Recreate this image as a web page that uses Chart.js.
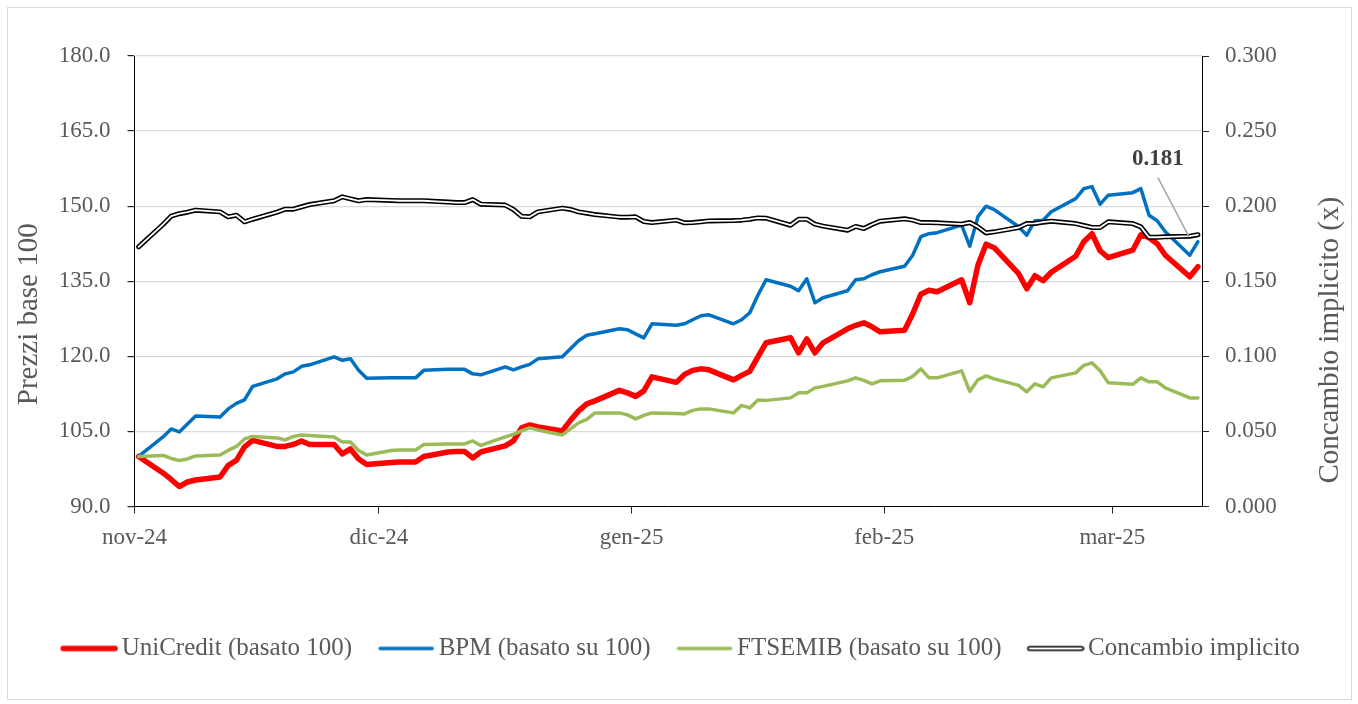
<!DOCTYPE html>
<html>
<head>
<meta charset="utf-8">
<script src="https://cdn.jsdelivr.net/npm/chart.js@4.4.1/dist/chart.umd.min.js"></script>
<style>
html, body { margin: 0; padding: 0; background: #fff; }
canvas { display: block; }
</style>
</head>
<body>
<canvas id="grafico" width="1358" height="704"></canvas>
<script>
// giorni di borsa (nov-24 -> mar-25)
const dates = [
    '2024-11-01', '2024-11-04', '2024-11-05', '2024-11-06', '2024-11-07', '2024-11-08', '2024-11-11', '2024-11-12', '2024-11-13', '2024-11-14', '2024-11-15',
    '2024-11-18', '2024-11-19', '2024-11-20', '2024-11-21', '2024-11-22', '2024-11-25', '2024-11-26', '2024-11-27', '2024-11-28', '2024-11-29',
    '2024-12-02', '2024-12-03', '2024-12-04', '2024-12-05', '2024-12-06', '2024-12-09', '2024-12-10', '2024-12-11', '2024-12-12', '2024-12-13',
    '2024-12-16', '2024-12-17', '2024-12-18', '2024-12-19', '2024-12-20', '2024-12-23', '2024-12-24', '2024-12-25', '2024-12-26', '2024-12-27',
    '2024-12-30', '2024-12-31',
    '2025-01-01', '2025-01-02', '2025-01-03', '2025-01-06', '2025-01-07', '2025-01-08', '2025-01-09', '2025-01-10', '2025-01-13', '2025-01-14',
    '2025-01-15', '2025-01-16', '2025-01-17', '2025-01-20', '2025-01-21', '2025-01-22', '2025-01-23', '2025-01-24', '2025-01-27', '2025-01-28',
    '2025-01-29', '2025-01-30', '2025-01-31',
    '2025-02-03', '2025-02-04', '2025-02-05', '2025-02-06', '2025-02-07', '2025-02-10', '2025-02-11', '2025-02-12', '2025-02-13', '2025-02-14',
    '2025-02-17', '2025-02-18', '2025-02-19', '2025-02-20', '2025-02-21', '2025-02-24', '2025-02-25', '2025-02-26', '2025-02-27', '2025-02-28',
    '2025-03-03', '2025-03-04', '2025-03-05', '2025-03-06', '2025-03-07', '2025-03-10', '2025-03-11'
];

const unicredit = [
    100, 96.7, 95.4, 94.0, 94.9, 95.3, 95.9, 98.2, 99.2, 101.9, 103.2, 102.0, 102.0, 102.4, 103.1, 102.4, 102.4, 100.5, 101.5, 99.5, 98.4,
    98.8, 98.9, 98.9, 98.9, 100.0, 100.9, 101.0, 101.0, 99.7, 100.9, 102.1, 103.1, 105.7, 106.3, 105.9, 105.1, 107.2, 109.1, 110.5, 111.1, 113.2, 112.7,
    112.0, 113.1, 115.9, 114.8, 116.4, 117.2, 117.5, 117.3, 115.3, 116.2, 117.0, 119.9, 122.7, 123.7, 120.7, 123.5, 120.7, 122.7, 125.5, 126.2, 126.7, 125.9, 124.9,
    125.2, 128.5, 132.4, 133.2, 132.9, 135.3, 130.7, 138.2, 142.4, 141.7, 136.5, 133.5, 136.1, 135.1, 136.8, 140.0, 142.9, 144.5, 141.1, 139.7,
    141.2, 144.3, 143.7, 142.5, 140.2, 135.9, 137.9
];

const bpm = [
    100, 103.9, 105.5, 104.9, 106.5, 108.1, 107.9, 109.5, 110.6, 111.3, 114.0, 115.5, 116.5, 116.9, 118.0, 118.3, 119.9, 119.2, 119.5, 117.2, 115.6,
    115.7, 115.7, 115.7, 115.7, 117.2, 117.4, 117.4, 117.4, 116.5, 116.3, 117.9, 117.3, 117.9, 118.4, 119.5, 119.9, 121.5, 123.1, 124.2, 124.5, 125.5, 125.3,
    124.5, 123.7, 126.5, 126.2, 126.5, 127.3, 128.1, 128.3, 126.5, 127.3, 128.7, 132.2, 135.3, 134.0, 133.1, 135.5, 130.7, 131.7, 133.1, 135.3, 135.5, 136.3, 136.9,
    138.0, 140.2, 143.9, 144.5, 144.7, 146.2, 142.0, 147.9, 150.0, 149.3, 145.9, 144.2, 147.1, 147.2, 148.9, 151.5, 153.5, 153.9, 150.4, 152.2,
    152.7, 153.5, 148.2, 147.1, 144.9, 140.2, 142.9
];

const ftsemib = [
    100, 100.2, 99.6, 99.2, 99.5, 100.1, 100.3, 101.2, 102.0, 103.5, 104.0, 103.7, 103.3, 104.0, 104.3, 104.2, 103.9, 102.9, 102.9, 101.2, 100.3,
    101.2, 101.3, 101.3, 101.3, 102.4, 102.5, 102.5, 102.5, 103.1, 102.2, 103.9, 104.4, 105.1, 105.7, 105.3, 104.3, 105.5, 106.7, 107.4, 108.7, 108.7, 108.3,
    107.5, 108.2, 108.7, 108.6, 108.5, 109.2, 109.5, 109.5, 108.7, 110.2, 109.7, 111.3, 111.2, 111.7, 112.7, 112.7, 113.7, 114.0, 115.1, 115.7, 115.2, 114.5, 115.1,
    115.2, 116.0, 117.5, 115.7, 115.7, 117.1, 113.0, 115.3, 116.1, 115.5, 114.2, 112.9, 114.5, 113.9, 115.7, 116.7, 118.2, 118.7, 117.1, 114.7,
    114.4, 115.7, 114.9, 114.9, 113.7, 111.7, 111.7
];

const concambio = [
    0.1729, 0.1878, 0.1933, 0.1950, 0.1960, 0.1973, 0.1962, 0.1929, 0.1940, 0.1896, 0.1913, 0.1960, 0.1980, 0.1980, 0.1996, 0.2011, 0.2036, 0.2062, 0.2049, 0.2036, 0.2044,
    0.2038, 0.2036, 0.2036, 0.2036, 0.2036, 0.2027, 0.2024, 0.2024, 0.2044, 0.2013, 0.2007, 0.1978, 0.1933, 0.1929, 0.1962, 0.1987, 0.1978, 0.1962, 0.1953, 0.1944, 0.1927, 0.1927,
    0.1929, 0.1898, 0.1891, 0.1907, 0.1889, 0.1891, 0.1896, 0.1902, 0.1904, 0.1907, 0.1913, 0.1922, 0.1920, 0.1873, 0.1913, 0.1913, 0.1880, 0.1867, 0.1840, 0.1865, 0.1851, 0.1878, 0.1900,
    0.1916, 0.1907, 0.1891, 0.1891, 0.1889, 0.1880, 0.1891, 0.1862, 0.1822, 0.1829, 0.1858, 0.1884, 0.1885, 0.1893, 0.1900, 0.1884, 0.1871, 0.1858, 0.1858, 0.1896,
    0.1884, 0.1862, 0.1793, 0.1793, 0.1796, 0.1800, 0.1810
];

const monthTicks = ['2024-11-01', '2024-12-01', '2025-01-01', '2025-02-01', '2025-03-01'];
const monthLabels = ['nov-24', 'dic-24', 'gen-25', 'feb-25', 'mar-25'];
const seriesNames = ['UniCredit (basato 100)', 'BPM (basato su 100)', 'FTSEMIB (basato su 100)', 'Concambio implicito'];
const axisTitles = ['Prezzi base 100', 'Concambio implicito (x)'];

const FONT = '"Liberation Serif", "Times New Roman", serif';
const GREY = '#595959';
Chart.defaults.font.family = FONT;
Chart.defaults.color = GREY;

const DAY = 86400000;
const start = Date.parse(dates[0]);
const dayOf = d => (Date.parse(d) - start) / DAY;
const pts = arr => arr.map((v, i) => ({ x: dayOf(dates[i]), y: v }));
const lastDay = dayOf(dates[dates.length - 1]);

// simboli della legenda (linee)
function lineIcon(color, width, inner) {
    const c = document.createElement('canvas');
    c.width = 66; c.height = 14;
    const g = c.getContext('2d');
    g.lineCap = 'round';
    g.strokeStyle = color; g.lineWidth = width;
    g.beginPath(); g.moveTo(11, 7); g.lineTo(63, 7); g.stroke();
    if (inner) {
        g.strokeStyle = '#fff'; g.lineWidth = inner;
        g.beginPath(); g.moveTo(11, 7); g.lineTo(63, 7); g.stroke();
    }
    return c;
}
const icons = [
    lineIcon('#ff0000', 5.5),
    lineIcon('#0070c0', 3.5),
    lineIcon('#9bbb59', 3.5),
    lineIcon('#000000', 5, 1.8)
];

const sfondo = {
    id: 'sfondo',
    beforeDraw(chart) {
        const g = chart.ctx;
        g.save();
        g.fillStyle = '#fff';
        g.fillRect(0, 0, chart.width, chart.height);
        g.strokeStyle = '#d9d9d9';
        g.lineWidth = 1;
        g.strokeRect(7.5, 7.5, chart.width - 14, chart.height - 12);
        g.restore();
    }
};

const titoliAssi = {
    id: 'titoliAssi',
    afterDraw(chart) {
        const a = chart.chartArea;
        const mid = (a.top + a.bottom) / 2;
        const g = chart.ctx;
        g.save();
        g.font = '29px ' + FONT;
        g.fillStyle = GREY;
        g.textAlign = 'center';
        g.textBaseline = 'middle';
        g.translate(a.left - 105, mid + 33);
        g.rotate(-Math.PI / 2);
        g.fillText(axisTitles[0], 0, 0);
        g.restore();
        g.save();
        g.font = '29px ' + FONT;
        g.fillStyle = GREY;
        g.textAlign = 'center';
        g.textBaseline = 'middle';
        g.translate(a.right + 128, mid + 59);
        g.rotate(-Math.PI / 2);
        g.fillText(axisTitles[1], 0, 0);
        g.restore();
    }
};

const ultimoValore = {
    id: 'ultimoValore',
    afterDatasetsDraw(chart) {
        const meta = chart.getDatasetMeta(3);
        const last = meta.data[meta.data.length - 1];
        const g = chart.ctx;
        g.save();
        g.strokeStyle = '#a6a6a6';
        g.lineWidth = 1.5;
        g.beginPath();
        g.moveTo(last.x - 40, last.y - 57);
        g.lineTo(last.x - 9, last.y + 2);
        g.stroke();
        g.font = 'bold 23px ' + FONT;
        g.fillStyle = '#404040';
        g.textAlign = 'center';
        g.textBaseline = 'middle';
        g.fillText(concambio[concambio.length - 1].toFixed(3), last.x - 40, last.y - 76);
        g.restore();
    }
};

const common = { pointRadius: 0, pointHoverRadius: 0, tension: 0, fill: false, borderJoinStyle: 'round', borderCapStyle: 'round' };

const ctx = document.getElementById('grafico').getContext('2d');
const grafico = new Chart(ctx, {
    type: 'line',
    data: {
        datasets: [
            { ...common, label: seriesNames[0], data: pts(unicredit), borderColor: '#ff0000', borderWidth: 5.5, yAxisID: 'y', order: 5 },
            { ...common, label: seriesNames[1], data: pts(bpm), borderColor: '#0070c0', borderWidth: 3.5, yAxisID: 'y', order: 4 },
            { ...common, label: seriesNames[2], data: pts(ftsemib), borderColor: '#9bbb59', borderWidth: 3.5, yAxisID: 'y', order: 3 },
            { ...common, label: seriesNames[3], data: pts(concambio), borderColor: '#000000', borderWidth: 5, yAxisID: 'y1', order: 2 },
            { ...common, label: 'inner', data: pts(concambio), borderColor: '#ffffff', borderWidth: 1.8, yAxisID: 'y1', order: 1 }
        ]
    },
    options: {
        responsive: false,
        animation: false,
        devicePixelRatio: 1,
        events: [],
        layout: { padding: { left: 8, right: 5, top: 56, bottom: 33 } },
        plugins: {
            tooltip: { enabled: false },
            legend: {
                position: 'bottom',
                labels: {
                    usePointStyle: true,
                    pointStyleWidth: 48,
                    padding: 26,
                    color: GREY,
                    font: { size: 25 },
                    sort: (a, b) => a.datasetIndex - b.datasetIndex,
                    generateLabels(chart) {
                        const items = Chart.defaults.plugins.legend.labels.generateLabels(chart);
                        return items.filter(it => it.datasetIndex < 4).map(it => {
                            it.pointStyle = icons[it.datasetIndex];
                            it.fontColor = GREY;
                            return it;
                        });
                    }
                }
            }
        },
        scales: {
            x: {
                type: 'linear',
                min: -0.5,
                max: lastDay + 0.5,
                afterBuildTicks(scale) {
                    scale.ticks = monthTicks.map(d => ({ value: dayOf(d) - 0.5 }));
                },
                afterFit(scale) { scale.height = 103.5; },
                ticks: {
                    autoSkip: false,
                    maxRotation: 0,
                    padding: 11,
                    color: GREY,
                    font: { size: 23 },
                    callback: (v, i) => monthLabels[i]
                },
                grid: { drawOnChartArea: false, drawTicks: true, tickLength: 7, tickColor: '#262626' },
                border: { color: '#000', width: 1 }
            },
            y: {
                position: 'left',
                min: 90,
                max: 180,
                afterFit(scale) { scale.width = 126.5; },
                ticks: {
                    stepSize: 15,
                    padding: 17,
                    color: GREY,
                    font: { size: 23 },
                    callback: v => v.toFixed(1)
                },
                grid: {
                    color: c => (c.tick && c.tick.value === 90 ? 'rgba(0,0,0,0)' : '#d9d9d9'),
                    lineWidth: 1.2,
                    tickLength: 7,
                    tickColor: '#262626'
                },
                border: { color: '#000', width: 1 }
            },
            y1: {
                position: 'right',
                min: 0,
                max: 0.3,
                afterFit(scale) { scale.width = 151; },
                ticks: {
                    stepSize: 0.05,
                    padding: 16,
                    color: GREY,
                    font: { size: 23 },
                    callback: v => v.toFixed(3)
                },
                grid: { drawOnChartArea: false, tickLength: 7, tickColor: '#262626' },
                border: { color: '#000', width: 1 }
            }
        }
    },
    plugins: [sfondo, ultimoValore, titoliAssi]
});
</script>
</body>
</html>
